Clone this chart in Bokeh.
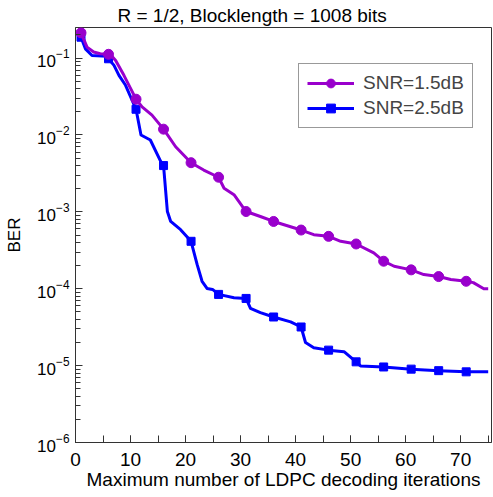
from bokeh.plotting import figure
from bokeh.models import Range1d, Legend, LegendItem, SingleIntervalTicker
from bokeh.embed import file_html
from bokeh.resources import INLINE

title_text = "R = 1/2, Blocklength = 1008 bits"
x_label = "Maximum number of LDPC decoding iterations"
y_label = "BER"
series_names = ["SNR=1.5dB", "SNR=2.5dB"]

# SNR = 1.5 dB curve (iteration, BER)
snr15_iter = [1, 2.1, 3.3, 4.5, 6, 6.5, 7.3, 8.8, 11, 12.1, 13.9, 16, 18.2, 21, 23.3, 26,
              27, 28.8, 31, 33.6, 36, 41, 43.3, 46, 48.2, 51, 54.2, 56, 57.9, 61, 63.3,
              66, 68.2, 71, 72.3, 74.2, 75]
snr15_ber = [0.213, 0.139, 0.12, 0.114, 0.112, 0.108, 0.093, 0.0597, 0.0292, 0.0232, 0.0181,
             0.0119, 0.00703, 0.00436, 0.0035, 0.00282, 0.00203, 0.00167, 0.00101, 0.00087,
             0.00075, 0.00058, 0.000505, 0.00048, 0.000414, 0.000382, 0.000292, 0.000228,
             0.000196, 0.000176, 0.000153, 0.000144, 0.000132, 0.000125, 0.00012, 0.0001,
             0.0001]

# SNR = 2.5 dB curve (iteration, BER)
snr25_iter = [1, 1.8, 3.0, 5.7, 6, 7.0, 7.9, 9.1, 11, 11.9, 13.6, 15.5, 16, 16.7, 17.3, 19.1,
              21, 22.1, 23.0, 23.9, 24.9, 26, 28.8, 31, 31.8, 33.6, 36, 39.1, 41, 41.8, 43.3,
              46, 48.8, 51, 51.8, 56, 61, 66, 71, 75]
snr25_ber = [0.187, 0.132, 0.108, 0.106, 0.098, 0.0804, 0.0597, 0.0443, 0.0216, 0.01, 0.0086,
             0.0045, 0.004, 0.00101, 0.00075, 0.000586, 0.000414, 0.000207, 0.000125,
             0.000101, 0.000098, 0.0000844, 0.0000765, 0.0000748, 0.0000555, 0.0000488,
             0.0000429, 0.0000371, 0.0000318, 0.00002, 0.0000171, 0.0000159, 0.0000152,
             0.0000112, 0.0000099, 0.0000096, 0.000009, 0.0000086, 0.0000083, 0.0000083]

# iterations where markers are drawn
marker_iter = [1, 6, 11, 16, 21, 26, 31, 36, 41, 46, 51, 56, 61, 66, 71]

snr15_lookup = dict(zip(snr15_iter, snr15_ber))
snr25_lookup = dict(zip(snr25_iter, snr25_ber))
snr15_marker_ber = [snr15_lookup[i] for i in marker_iter]
snr25_marker_ber = [snr25_lookup[i] for i in marker_iter]

FONT = "Liberation Sans"
PURPLE = "#9900cc"
BLUE = "#0000ff"

p = figure(width=493, height=497, y_axis_type="log",
           x_range=Range1d(0, 75.6), y_range=Range1d(1e-6, 0.25),
           output_backend="svg", toolbar_location=None,
           min_border_left=75, min_border_right=2, min_border_top=25, min_border_bottom=55)

p.title.text = title_text
p.title.align = "left"
p.title.offset = 42
p.title.text_font = FONT
p.title.text_font_size = "19px"
p.title.text_font_style = "normal"
p.title.text_color = "#000000"
p.title.standoff = 4

p.xgrid.visible = False
p.ygrid.visible = False
p.outline_line_color = "#333333"
p.outline_line_width = 1
p.outline_line_alpha = 1.0
p.background_fill_color = "white"
p.border_fill_color = "white"

p.xaxis.ticker = SingleIntervalTicker(interval=10, num_minor_ticks=2)
for ax in (p.xaxis[0], p.yaxis[0]):
    ax.axis_line_color = "#333333"
    ax.major_tick_line_color = "#333333"
    ax.minor_tick_line_color = "#333333"
    ax.major_tick_out = 0
    ax.minor_tick_out = 0
    ax.major_label_text_font = FONT
    ax.major_label_text_color = "#000000"
    ax.axis_label_text_font = FONT
    ax.axis_label_text_font_style = "normal"
    ax.axis_label_text_color = "#000000"

p.xaxis.major_tick_in = 7
p.xaxis.minor_tick_in = 7
p.xaxis.major_label_text_font_size = "19px"
p.xaxis.axis_label = x_label
p.xaxis.axis_label_text_font_size = "19px"
p.xaxis.major_label_standoff = 10
p.xaxis.axis_label_standoff = 0

p.yaxis.major_tick_in = 7
p.yaxis.minor_tick_in = 5
p.yaxis.major_label_text_font_size = "17px"
p.yaxis.axis_label = y_label
p.yaxis.axis_label_text_font_size = "17px"
p.yaxis.major_label_standoff = 6
p.yaxis.axis_label_standoff = 10

# blue drawn first, purple on top
l25 = p.line(snr25_iter, snr25_ber, line_color=BLUE, line_width=3, line_join="round")
m25 = p.scatter(marker_iter, snr25_marker_ber, marker="square", size=8,
                fill_color=BLUE, line_color=BLUE)
l15 = p.line(snr15_iter, snr15_ber, line_color=PURPLE, line_width=3, line_join="round")
m15 = p.scatter(marker_iter, snr15_marker_ber, marker="circle", size=10,
                fill_color=PURPLE, line_color=PURPLE)

legend = Legend(items=[LegendItem(label=series_names[0], renderers=[l15, m15]),
                       LegendItem(label=series_names[1], renderers=[l25, m25])],
                location=(223, 314), margin=0, padding=8, spacing=3,
                glyph_width=47, glyph_height=22, label_height=22, label_standoff=9,
                label_text_font=FONT, label_text_font_size="19px",
                border_line_color="#333333", border_line_width=1,
                background_fill_color="white", background_fill_alpha=1.0)
p.add_layout(legend)

open("out.html", "w").write(file_html(p, INLINE))
